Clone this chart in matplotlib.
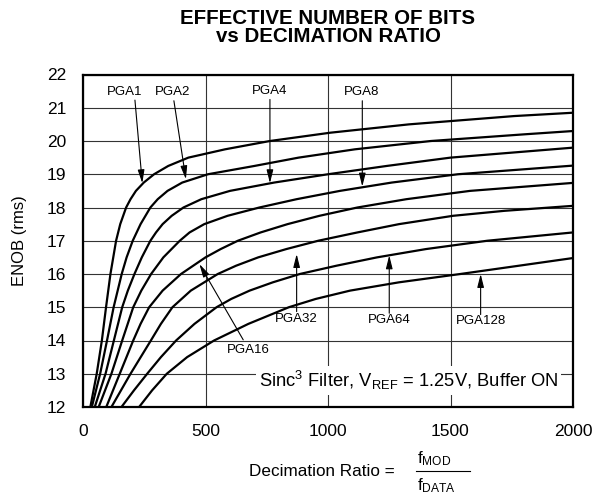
import matplotlib
matplotlib.use('Agg')
import matplotlib.pyplot as plt

plt.rcParams['font.family'] = ['Liberation Sans', 'DejaVu Sans']

###############################################################################
# Data (decimation ratio, ENOB)
dec_pga1 = [30, 56, 77, 94, 112, 135, 152, 176, 194, 216, 248, 290, 348, 430, 580, 763, 1010, 1330, 1760, 2000]
enob_pga1 = [12, 13, 14, 15, 16, 17, 17.5, 18, 18.25, 18.5, 18.75, 19, 19.25, 19.5, 19.75, 20, 20.25, 20.5, 20.75, 20.85]

dec_pga2 = [36, 70, 98, 125, 158, 178, 203, 235, 275, 305, 345, 405, 510, 700, 880, 1110, 1420, 1800, 2000]
enob_pga2 = [12, 13, 14, 15, 16, 16.5, 17, 17.5, 18, 18.25, 18.5, 18.75, 19, 19.25, 19.5, 19.75, 20, 20.2, 20.3]

dec_pga4 = [48, 92, 126, 160, 183, 210, 240, 275, 298, 325, 362, 410, 483, 600, 780, 1000, 1240, 1500, 2000]
enob_pga4 = [12, 13, 14, 15, 15.5, 16, 16.5, 17, 17.25, 17.5, 17.75, 18, 18.25, 18.5, 18.75, 19, 19.25, 19.5, 19.8]

dec_pga8 = [64, 116, 160, 205, 238, 278, 328, 395, 435, 495, 590, 720, 872, 1049, 1260, 1530, 2000]
enob_pga8 = [12, 13, 14, 15, 15.5, 16, 16.5, 17, 17.25, 17.5, 17.75, 18, 18.25, 18.5, 18.75, 19, 19.26]

dec_pga16 = [95, 150, 205, 235, 270, 325, 400, 500, 562, 632, 725, 835, 965, 1120, 1320, 1580, 2000]
enob_pga16 = [12, 13, 14, 14.5, 15, 15.5, 16, 16.5, 16.75, 17, 17.25, 17.5, 17.75, 18, 18.25, 18.5, 18.74]

dec_pga32 = [116, 194, 277, 318, 365, 440, 550, 625, 715, 830, 960, 1120, 1290, 1510, 1720, 2000]
enob_pga32 = [12, 13, 14, 14.5, 15, 15.5, 16, 16.25, 16.5, 16.75, 17, 17.25, 17.5, 17.75, 17.9, 18.05]

dec_pga64 = [157, 208, 262, 318, 380, 455, 545, 605, 680, 775, 885, 1035, 1200, 1400, 1650, 2000]
enob_pga64 = [12, 12.5, 13, 13.5, 14, 14.5, 15, 15.25, 15.5, 15.75, 16, 16.25, 16.5, 16.75, 17, 17.25]

dec_pga128 = [229, 282, 342, 425, 535, 675, 840, 950, 1090, 1290, 1540, 1780, 2000]
enob_pga128 = [12, 12.5, 13, 13.5, 14, 14.5, 15, 15.25, 15.5, 15.75, 16, 16.25, 16.48]

x_ticks = [0, 500, 1000, 1500, 2000]
y_ticks = list(range(12, 23))

# label text, label position, arrow tail and tip
labels = ['PGA1', 'PGA2', 'PGA4', 'PGA8', 'PGA16', 'PGA32', 'PGA64', 'PGA128']
label_x = [171, 366, 760, 1138, 675, 872, 1250, 1623]
label_y = [21.48, 21.46, 21.5, 21.46, 13.71, 14.64, 14.62, 14.6]
tail_x = [212, 371, 763, 1140, 654, 872, 1250, 1623]
tail_y = [21.23, 21.21, 21.25, 21.21, 14.02, 14.87, 14.82, 14.78]
tip_x = [242, 420, 763, 1140, 475, 872, 1250, 1623]
tip_y = [18.73, 18.85, 18.73, 18.63, 16.30, 16.6, 16.56, 16.0]

###############################################################################
fig = plt.figure(figsize=(6.03, 5.0), dpi=100)
ax = fig.add_axes([83 / 603, 1 - 407 / 500, 490 / 603, 332.5 / 500])

curves = [(dec_pga1, enob_pga1), (dec_pga2, enob_pga2), (dec_pga4, enob_pga4),
          (dec_pga8, enob_pga8), (dec_pga16, enob_pga16), (dec_pga32, enob_pga32),
          (dec_pga64, enob_pga64), (dec_pga128, enob_pga128)]
for xs, ys in curves:
    ax.plot(xs, ys, color='black', linewidth=1.6, solid_joinstyle='round', zorder=3)

ax.set_xlim(0, 2000)
ax.set_ylim(12, 22)
ax.set_xticks(x_ticks)
ax.set_yticks(y_ticks)
ax.tick_params(length=0, labelsize=12.5, pad=12)
ax.grid(True, color='#333333', linewidth=0.8)
ax.set_axisbelow(True)
for sp in ax.spines.values():
    sp.set_linewidth(1.6)

ax.set_ylabel('ENOB (rms)', fontsize=12)
ax.yaxis.set_label_coords(-0.114, 0.5)

# Arrows with labels
for i in range(len(labels)):
    ax.annotate('', xy=(tip_x[i], tip_y[i]), xytext=(tail_x[i], tail_y[i]),
                arrowprops=dict(arrowstyle='-|>,head_length=0.8,head_width=0.2',
                                mutation_scale=10, lw=0.8, color='black',
                                shrinkA=0, shrinkB=0), zorder=4)
    ax.text(label_x[i], label_y[i], labels[i], fontsize=9.5,
            ha='center', va='center', zorder=4)

# Condition box
ax.text(1940, 12.8,
        r'Sinc$\mathregular{^3}$ Filter, V$\mathregular{_{REF}}$ = 1.25V, Buffer ON',
        fontsize=13.2, ha='right', va='center', zorder=5,
        bbox=dict(facecolor='white', edgecolor='none', pad=2))

# Title
fig.text(328 / 603, 1 - 18 / 500, 'EFFECTIVE NUMBER OF BITS',
         fontsize=14.8, fontweight='bold', ha='center', va='center')
fig.text(328 / 603, 1 - 37 / 500, 'vs DECIMATION RATIO',
         fontsize=14.8, fontweight='bold', ha='center', va='center')

# X axis label with fraction
fig.text(395 / 603, 1 - 472 / 500, 'Decimation Ratio =', fontsize=12.3,
         ha='right', va='center')
fig.text(417 / 603, 1 - 459 / 500, r'$\mathregular{f_{MOD}}$', fontsize=12.3,
         ha='left', va='center')
fig.text(417 / 603, 1 - 486 / 500, r'$\mathregular{f_{DATA}}$', fontsize=12.3,
         ha='left', va='center')
fig.add_artist(plt.Line2D([416 / 603, 470 / 603], [1 - 471 / 500, 1 - 471 / 500],
                          color='black', linewidth=0.8))

fig.savefig('out.png', dpi=100)
